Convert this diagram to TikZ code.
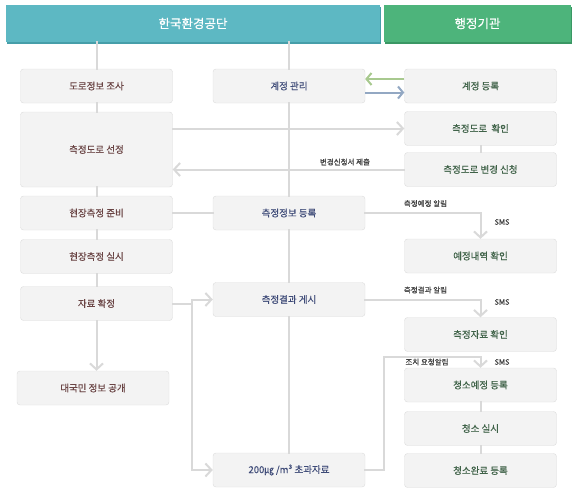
\documentclass[tikz,border=0pt]{standalone}
\usepackage{fontspec}
\setmainfont{Noto Sans CJK KR}
\newfontfamily\boxfont{Noto Sans CJK KR}[FakeBold=0.45]
\usepackage{tikz}
\usetikzlibrary{arrows.meta,shadows}
\definecolor{hdrblue}{HTML}{5DB8C3}
\definecolor{hdrblueedge}{HTML}{469EA9}
\definecolor{hdrgreen}{HTML}{4DB47B}
\definecolor{hdrgreenedge}{HTML}{3A9764}
\definecolor{boxfill}{HTML}{F3F3F3}
\definecolor{boxline}{HTML}{DCDCDC}
\definecolor{linkgray}{HTML}{D9D9D9}
\definecolor{txtleft}{HTML}{6A4444}
\definecolor{txtmid}{HTML}{3E4B78}
\definecolor{txtright}{HTML}{3F6248}
\definecolor{syncgreen}{HTML}{A8C98F}
\definecolor{syncblue}{HTML}{93A8C3}

\begin{document}
\begin{tikzpicture}[x=1pt, y=-1pt,
  hdr/.style={rectangle, minimum height=37pt, inner sep=0pt, text=white,
              font=\boxfont\fontsize{12.5}{14}\selectfont},
  box/.style={rectangle, rounded corners=3pt, draw=boxline, fill=boxfill,
              minimum width=152pt, minimum height=34pt, inner sep=0pt,
              font=\boxfont\fontsize{9.5}{11}\selectfont},
  left/.style={box, text=txtleft},
  mid/.style={box, text=txtmid},
  right/.style={box, text=txtright},
  note/.style={font=\boxfont\fontsize{7.5}{9}\selectfont, text=black!75},
  link/.style={line width=2pt, draw=linkgray, line cap=rect},
  tip/.style={-{Straight Barb[length=6pt, width=13pt]}},
  sync/.style={line width=2pt, -{Straight Barb[length=5pt, width=12pt]}},
]
\useasboundingbox (0,0) rectangle (582,491);

\node[hdr, fill=hdrblue, minimum width=374pt,
  drop shadow={shadow xshift=0.5pt, shadow yshift=-1.6pt, fill=hdrblueedge, opacity=1}]
  (hdrA) at (193, 23.5) {한국환경공단};
\node[hdr, fill=hdrgreen, minimum width=187pt,
  drop shadow={shadow xshift=0.5pt, shadow yshift=-1.6pt, fill=hdrgreenedge, opacity=1}]
  (hdrB) at (477.5, 23.5) {행정기관};

\node[left] (dorojosa) at (96.5, 86) {도로정보 조사};
\node[left, minimum height=75pt] (seonjeong) at (96.5, 149.5) {측정도로 선정};
\node[left] (junbi) at (96.5, 213) {현장측정 준비};
\node[left] (silsi) at (96.5, 256.5) {현장측정 실시};
\node[left] (hwakjeong) at (96.5, 303.5) {자료 확정};
\node[left] (gonggae) at (93, 388) {대국민 정보 공개};

\node[mid] (gwanri) at (289, 86) {계정 관리};
\node[mid] (jeongbo) at (289, 213) {측정정보 등록};
\node[mid] (gesi) at (289, 299.5) {측정결과 게시};
\node[mid] (chogwa) at (289, 470) {200㎍ /m³ 초과자료};

\node[right] (gyejeong) at (480.5, 86) {계정 등록};
\node[right] (hwagin) at (480.5, 128.5) {측정도로 \ 확인};
\node[right] (sincheong) at (480.5, 169.5) {측정도로 변경 신청};
\node[right] (yejeong) at (480.5, 256) {예정내역 확인};
\node[right] (jaryo) at (480.5, 334.5) {측정자료 확인};
\node[right] (cheongso1) at (480.5, 385) {청소예정 등록};
\node[right] (cheongso2) at (480.5, 428.5) {청소 실시};
\node[right] (cheongso3) at (480.5, 470.5) {청소완료 등록};

\coordinate (bus) at (191.5, 0);
\coordinate (riser) at (384, 356.5);

\draw[link] (dorojosa.north |- hdrA.south) -- (dorojosa.north);
\draw[link] (dorojosa) -- (seonjeong);
\draw[link] (seonjeong) -- (junbi);
\draw[link] (junbi) -- (silsi);
\draw[link] (silsi) -- (hwakjeong);
\draw[link, tip] (hwakjeong.south) -- (hwakjeong.south |- gonggae.north);

\draw[link] (gwanri.north |- hdrA.south) -- (gwanri.north);
\draw[link] (gwanri) -- (jeongbo);
\draw[link] (jeongbo) -- (gesi);
\draw[link] (gesi) -- (chogwa);

\draw[link, tip] (seonjeong.east |- hwagin) -- (hwagin.west);
\draw[link, tip] (sincheong.west) -- (sincheong.west -| seonjeong.east);
\draw[link] (hwagin) -- (sincheong);

\draw[link] (junbi) -- (jeongbo);
\draw[link, tip] (jeongbo.east) -| (yejeong.north);
\draw[link, tip] (gesi.east) -| (jaryo.north);

\draw[link] (hwakjeong.east) -- (hwakjeong.east -| bus);
\draw[link, tip] (bus |- gesi) -- (gesi.west);
\draw[link, tip] (bus |- gesi) |- (chogwa.west);
\draw[link, tip] (chogwa.east) -| (riser) -| (cheongso1.north);

\draw[link] (cheongso1) -- (cheongso2);
\draw[link] (cheongso2) -- (cheongso3);

\draw[sync, syncgreen] ([yshift=7pt]gyejeong.west) -- ([yshift=7pt]gwanri.east);
\draw[sync, syncblue] ([yshift=-6.5pt]gwanri.east) -- ([yshift=-6.5pt]gyejeong.west);

\node[note] (nbyeon) at (345, 162) {변경신청서 제출};
\node[note] (nyejeong) at (425.5, 203.5) {측정예정 알림};
\node[note] (sms1) at (502, 222) {SMS};
\node[note] (ngyeolgwa) at (425.5, 290) {측정결과 알림};
\node[note] (sms2) at (502, 302) {SMS};
\node[note] (njochi) at (427, 362) {조치 요청알림};
\node[note] (sms3) at (502, 362) {SMS};

\end{tikzpicture}
\end{document}
